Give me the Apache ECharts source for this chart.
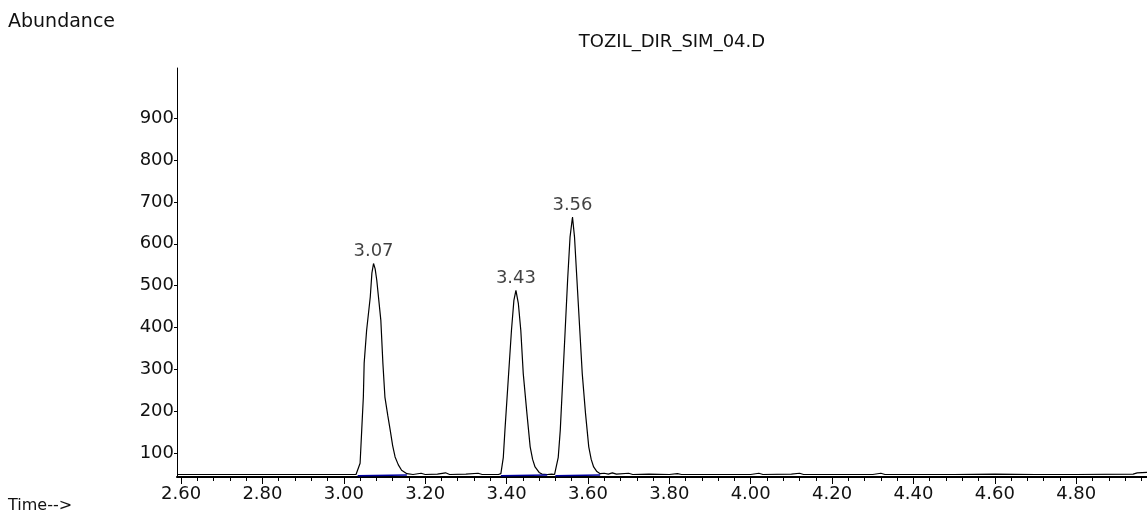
<!DOCTYPE html>
<html>
<head>
<meta charset="utf-8">
<script src="https://cdn.jsdelivr.net/npm/echarts@6/dist/echarts.min.js"></script>
<style>
  html, body { margin: 0; padding: 0; background: #fff; }
  #chart { width: 1147px; height: 519px; }
</style>
</head>
<body>
<div id="chart"></div>
<script>
// retention time (min) / abundance pairs
const baselineLeft = [[2.59, 49], [2.80, 49], [3.00, 49], [3.03, 49]]
const peak1 = [
  [3.034, 52], [3.040, 76], [3.044, 155], [3.048, 234], [3.050, 315], [3.056, 393],
  [3.065, 473], [3.069, 530], [3.073, 553], [3.077, 540], [3.081, 513], [3.091, 417],
  [3.096, 315], [3.101, 234], [3.108, 190], [3.114, 155], [3.120, 118], [3.126, 91],
  [3.134, 72], [3.142, 59], [3.155, 51]
]
const baselineMid = [
  [3.17, 49], [3.19, 52], [3.20, 49], [3.23, 50], [3.25, 53], [3.26, 49],
  [3.30, 50], [3.33, 52], [3.34, 49], [3.38, 49]
]
const peak2 = [
  [3.386, 51], [3.392, 90], [3.396, 155], [3.404, 274], [3.412, 393], [3.418, 465],
  [3.423, 489], [3.429, 457], [3.435, 393], [3.441, 290], [3.450, 195], [3.458, 115],
  [3.464, 85], [3.470, 67], [3.480, 54], [3.487, 50], [3.500, 49], [3.511, 50], [3.518, 49]
]
const peak3 = [
  [3.522, 53], [3.527, 90], [3.532, 155], [3.538, 274], [3.544, 393], [3.550, 513],
  [3.556, 616], [3.562, 664], [3.567, 616], [3.573, 513], [3.580, 393], [3.586, 290],
  [3.594, 195], [3.602, 115], [3.608, 85], [3.614, 67], [3.622, 56], [3.630, 51],
  [3.640, 52], [3.650, 50], [3.660, 53], [3.670, 50], [3.700, 52], [3.710, 49]
]
const baselineRight = [
  [3.75, 50], [3.80, 49], [3.82, 51], [3.83, 49], [4.00, 49], [4.02, 52], [4.03, 49],
  [4.10, 50], [4.12, 52], [4.13, 49], [4.30, 49], [4.32, 52], [4.33, 49], [4.50, 49],
  [4.60, 50], [4.70, 49], [4.80, 49], [4.94, 50], [4.95, 53], [4.974, 54]
]

// integration baselines (blue)
const integration1 = [[3.034, 46], [3.155, 48]]
const integration2 = [[3.386, 46], [3.500, 48]]
const integration3 = [[3.520, 46], [3.630, 48]]

const peakTimes = ['3.07', '3.43', '3.56']
const peakApex = [[3.073, 553], [3.423, 489], [3.562, 664]]

const xLabels = [2.6, 2.8, 3.0, 3.2, 3.4, 3.6, 3.8, 4.0, 4.2, 4.4, 4.6, 4.8]
const xMinor = [
  2.64, 2.68, 2.72, 2.76, 2.84, 2.88, 2.92, 2.96, 3.04, 3.08, 3.12, 3.16,
  3.24, 3.28, 3.32, 3.36, 3.44, 3.48, 3.52, 3.56, 3.64, 3.68, 3.72, 3.76,
  3.84, 3.88, 3.92, 3.96, 4.04, 4.08, 4.12, 4.16, 4.24, 4.28, 4.32, 4.36,
  4.44, 4.48, 4.52, 4.56, 4.64, 4.68, 4.72, 4.76, 4.84, 4.88, 4.92, 4.96
]
const yLabels = [100, 200, 300, 400, 500, 600, 700, 800, 900]

const trace = [].concat(baselineLeft, peak1, baselineMid, peak2, peak3, baselineRight)

const FONT = 'DejaVu Sans'
const SIZE = 18
const TEXT = '#111'

const chart = echarts.init(document.getElementById('chart'), null, { renderer: 'canvas' })

const xCommon = {
  type: 'value',
  min: 2.59,
  max: 4.974,
  splitLine: { show: false }
}

chart.setOption({
  animation: false,
  backgroundColor: '#fff',
  grid: { left: 177, right: 0, top: 68, bottom: 42 },
  graphic: [
    { type: 'text', left: 8, top: 13, style: { text: 'Abundance', font: `19px "${FONT}"`, fill: TEXT } },
    { type: 'text', left: 8, top: 498, style: { text: 'Time-->', font: `16px "${FONT}"`, fill: TEXT } },
    { type: 'text', x: 672, y: 33, style: { text: 'TOZIL_DIR_SIM_04.D', textAlign: 'center', font: `${SIZE}px "${FONT}"`, fill: TEXT } }
  ],
  xAxis: [
    Object.assign({}, xCommon, {
      axisLine: { show: true, onZero: false, lineStyle: { color: '#000', width: 2 } },
      axisTick: { show: true, length: 7, customValues: xLabels, lineStyle: { color: '#000', width: 1 } },
      axisLabel: {
        customValues: xLabels,
        formatter: v => v.toFixed(2),
        fontFamily: FONT, fontSize: SIZE, color: TEXT, margin: 8
      }
    }),
    Object.assign({}, xCommon, {
      position: 'bottom',
      axisLine: { show: false },
      axisTick: { show: true, length: 4, customValues: xMinor, lineStyle: { color: '#000', width: 1 } },
      axisLabel: { show: false }
    })
  ],
  yAxis: {
    type: 'value',
    min: 43,
    max: 1020,
    splitLine: { show: false },
    axisLine: { show: true, onZero: false, lineStyle: { color: '#000', width: 1 } },
    axisTick: { show: true, length: 3, customValues: yLabels, lineStyle: { color: '#000' } },
    axisLabel: { customValues: yLabels, fontFamily: FONT, fontSize: SIZE, color: TEXT, margin: 3 }
  },
  series: [
    {
      name: 'TIC',
      type: 'line',
      data: trace,
      showSymbol: false,
      symbol: 'none',
      lineStyle: { color: '#000', width: 1.2 },
      z: 3
    },
    { type: 'line', data: integration1, symbol: 'none', lineStyle: { color: '#0000a0', width: 1.5 }, z: 4 },
    { type: 'line', data: integration2, symbol: 'none', lineStyle: { color: '#0000a0', width: 1.5 }, z: 4 },
    { type: 'line', data: integration3, symbol: 'none', lineStyle: { color: '#0000a0', width: 1.5 }, z: 4 },
    {
      name: 'peaks',
      type: 'scatter',
      data: peakApex,
      symbolSize: 0,
      label: {
        show: true,
        position: 'top',
        distance: 3,
        formatter: p => peakTimes[p.dataIndex],
        fontFamily: FONT, fontSize: SIZE, color: TEXT
      },
      z: 5
    }
  ]
})
</script>
</body>
</html>
